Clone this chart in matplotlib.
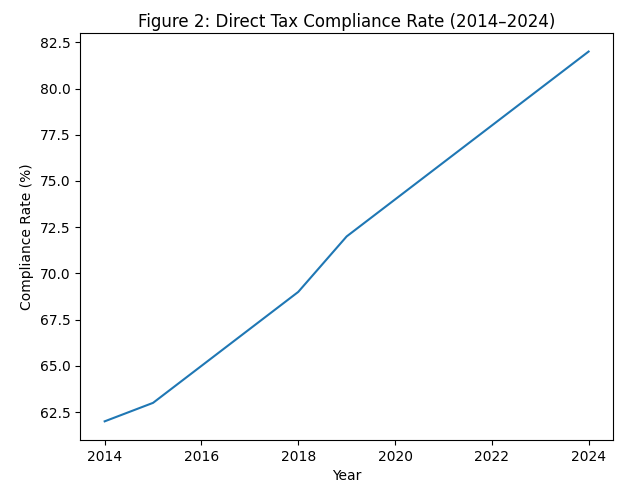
import matplotlib
matplotlib.use("Agg")
import matplotlib.pyplot as plt

years = [2014, 2015, 2016, 2017, 2018, 2019, 2020, 2021, 2022, 2023, 2024]
compliance = [62, 63, 65, 67, 69, 72, 74, 76, 78, 80, 82]

fig, ax = plt.subplots(figsize=(6.19, 4.86), dpi=100)
ax.plot(years, compliance)
ax.set_title("Figure 2: Direct Tax Compliance Rate (2014\u20132024)", pad=4)
ax.set_xlabel("Year")
ax.set_ylabel("Compliance Rate (%)")
fig.subplots_adjust(left=0.13, right=0.99, top=0.932, bottom=0.095)
fig.savefig("out.png")
